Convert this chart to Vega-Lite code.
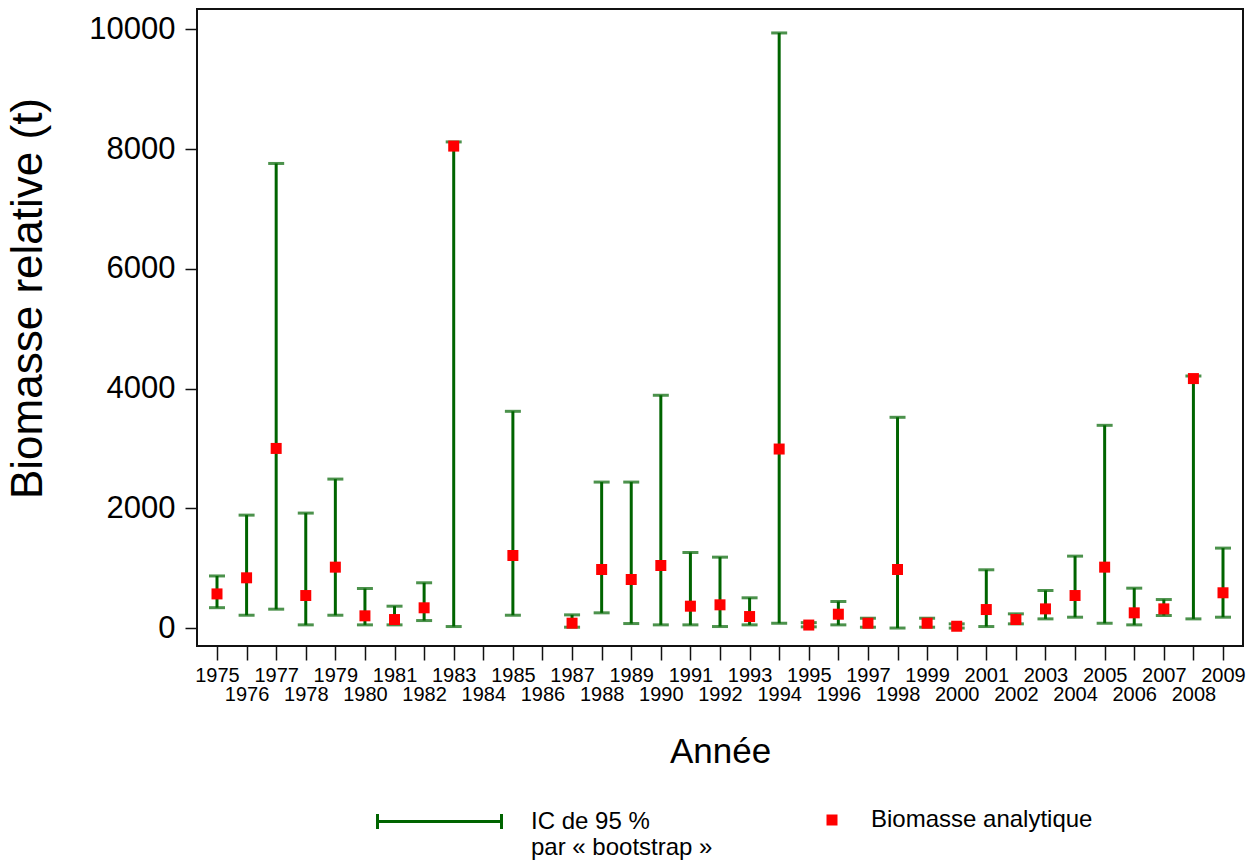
{
  "$schema": "https://vega.github.io/schema/vega-lite/v6.json",
  "width": 1046,
  "height": 637,
  "autosize": {"type": "none"},
  "padding": {"left": 197, "top": 9, "right": 10, "bottom": 217},
  "background": "white",
  "config": {
    "font": "Liberation Sans",
    "view": {"stroke": "#111", "strokeWidth": 2},
    "axis": {"grid": false, "domain": false, "tickColor": "#111", "tickWidth": 1.5, "labelColor": "#000", "titleColor": "#000", "titleFontWeight": "normal", "labelFont": "Liberation Sans", "titleFont": "Liberation Sans"},
    "legend": {"labelFont": "Liberation Sans", "labelColor": "#000"}
  },
  "data": {
    "values": [
      {"year": 1975, "lower": 340, "upper": 870, "biomass": 570},
      {"year": 1976, "lower": 214, "upper": 1886, "biomass": 839},
      {"year": 1977, "lower": 315, "upper": 7760, "biomass": 3000},
      {"year": 1978, "lower": 53, "upper": 1920, "biomass": 543},
      {"year": 1979, "lower": 214, "upper": 2488, "biomass": 1017},
      {"year": 1980, "lower": 53, "upper": 660, "biomass": 204},
      {"year": 1981, "lower": 53, "upper": 365, "biomass": 142},
      {"year": 1982, "lower": 125, "upper": 756, "biomass": 338},
      {"year": 1983, "lower": 25, "upper": 8120, "biomass": 8050},
      {"year": 1985, "lower": 214, "upper": 3620, "biomass": 1212},
      {"year": 1987, "lower": 14, "upper": 220, "biomass": 81},
      {"year": 1988, "lower": 254, "upper": 2438, "biomass": 978},
      {"year": 1989, "lower": 75, "upper": 2438, "biomass": 811},
      {"year": 1990, "lower": 53, "upper": 3888, "biomass": 1045},
      {"year": 1991, "lower": 53, "upper": 1262, "biomass": 365},
      {"year": 1992, "lower": 25, "upper": 1184, "biomass": 388},
      {"year": 1993, "lower": 53, "upper": 505, "biomass": 192},
      {"year": 1994, "lower": 80, "upper": 9940, "biomass": 2990},
      {"year": 1995, "lower": 20, "upper": 90, "biomass": 50},
      {"year": 1996, "lower": 53, "upper": 443, "biomass": 231},
      {"year": 1997, "lower": 14, "upper": 164, "biomass": 81},
      {"year": 1998, "lower": 0, "upper": 3520, "biomass": 978},
      {"year": 1999, "lower": 14, "upper": 164, "biomass": 81},
      {"year": 2000, "lower": 0, "upper": 70, "biomass": 30},
      {"year": 2001, "lower": 25, "upper": 973, "biomass": 309},
      {"year": 2002, "lower": 70, "upper": 237, "biomass": 142},
      {"year": 2003, "lower": 153, "upper": 627, "biomass": 320},
      {"year": 2004, "lower": 181, "upper": 1201, "biomass": 543},
      {"year": 2005, "lower": 80, "upper": 3386, "biomass": 1017},
      {"year": 2006, "lower": 53, "upper": 666, "biomass": 254},
      {"year": 2007, "lower": 209, "upper": 476, "biomass": 320},
      {"year": 2008, "lower": 153, "upper": 4210, "biomass": 4167},
      {"year": 2009, "lower": 181, "upper": 1335, "biomass": 589}
    ]
  },
  "encoding": {
    "x": {
      "field": "year", "type": "quantitative",
      "scale": {"domain": [1974.324, 2009.676], "nice": false, "zero": false},
      "axis": {
        "values": [1975,1976,1977,1978,1979,1980,1981,1982,1983,1984,1985,1986,1987,1988,1989,1990,1991,1992,1993,1994,1995,1996,1997,1998,1999,2000,2001,2002,2003,2004,2005,2006,2007,2008,2009],
        "format": "d",
        "labelExpr": "datum.value % 2 == 0 ? ['', datum.label] : datum.label",
        "labelOverlap": false,
        "labelFlush": false,
        "labelFontSize": 20,
        "labelLineHeight": 19,
        "labelPadding": 5,
        "tickSize": 14,
        "title": "Année",
        "titleFontSize": 35,
        "titlePadding": 30
      }
    }
  },
  "layer": [
    {
      "mark": {"type": "rule", "strokeWidth": 3},
      "encoding": {
        "y": {
          "field": "lower", "type": "quantitative",
          "scale": {"domain": [-300, 10340], "nice": false, "zero": false},
          "axis": {
            "values": [0, 2000, 4000, 6000, 8000, 10000],
            "format": "d",
            "labelFontSize": 31,
            "labelPadding": 10,
            "tickSize": 12,
            "title": "Biomasse relative (t)",
            "titleFontSize": 44,
            "titlePadding": 38,
            "titleY": 289
          }
        },
        "y2": {"field": "upper"},
        "stroke": {
          "datum": "IC",
          "scale": {"range": ["#006400"]},
          "legend": {
            "orient": "none", "legendX": 179, "legendY": 749,
            "title": null, "padding": 0,
            "symbolType": "M-1,0L1,0M-1,-0.12L-1,0.12M1,-0.12L1,0.12",
            "symbolSize": 15376, "symbolStrokeWidth": 3,
            "labelExpr": "['IC de 95 %', 'par « bootstrap »']",
            "labelFontSize": 24, "labelLineHeight": 28, "labelOffset": 28, "labelLimit": 400
          }
        }
      }
    },
    {
      "mark": {"type": "tick", "orient": "horizontal", "size": 16, "thickness": 3, "color": "#006400"},
      "encoding": {"y": {"field": "upper", "type": "quantitative"}}
    },
    {
      "mark": {"type": "tick", "orient": "horizontal", "size": 16, "thickness": 3, "color": "#006400"},
      "encoding": {"y": {"field": "lower", "type": "quantitative"}}
    },
    {
      "mark": {"type": "square", "size": 121, "filled": true, "opacity": 1, "strokeWidth": 0},
      "encoding": {
        "y": {"field": "biomass", "type": "quantitative"},
        "fill": {
          "datum": "Biomasse analytique",
          "scale": {"range": ["#ff0000"]},
          "legend": {
            "orient": "none", "legendX": 623, "legendY": 799,
            "title": null, "padding": 0,
            "symbolType": "square", "symbolSize": 121, "symbolStrokeWidth": 0,
            "labelFontSize": 24, "labelOffset": 27, "labelLimit": 400
          }
        }
      }
    }
  ]
}
